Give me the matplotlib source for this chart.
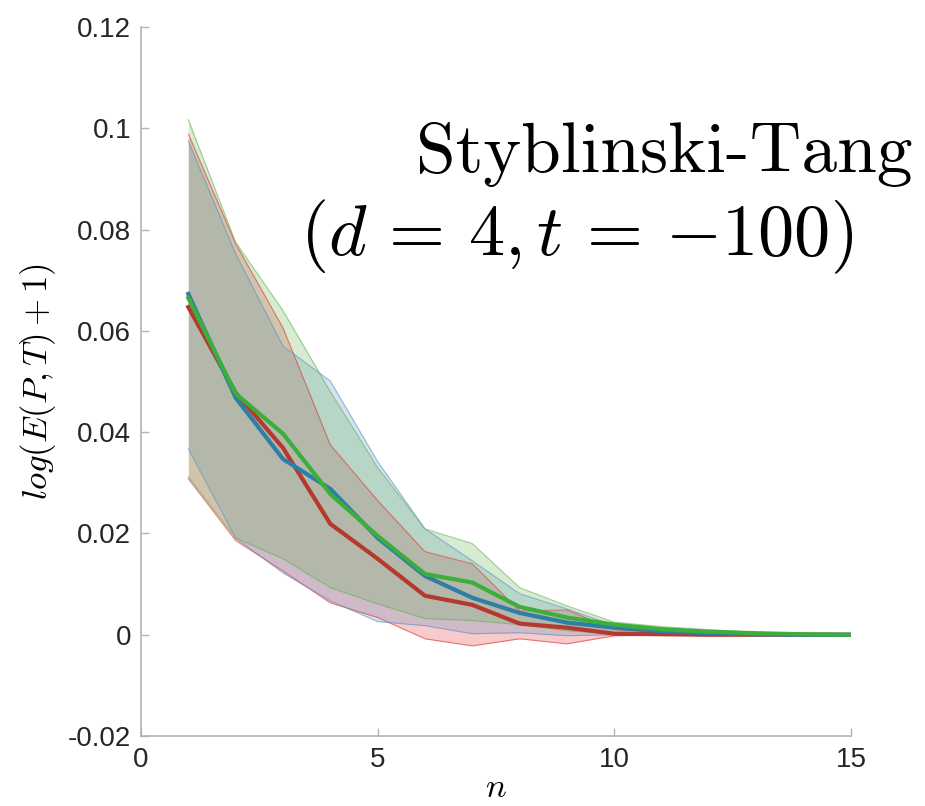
# Convergence of log(E(P,T)+1) against n on Styblinski-Tang, three runs with spread bands

import matplotlib.pyplot as plt
import numpy as np
from matplotlib.ticker import FuncFormatter

n = np.arange(1, 16)

# mean curves
blue_mean = [0.0673, 0.0468, 0.0347, 0.0288, 0.0191, 0.0116, 0.0073, 0.0043,
             0.0024, 0.0014, 0.0007, 0.0003, 0.0001, 0.0, 0.0]
red_mean = [0.0647, 0.0478, 0.0369, 0.0219, 0.0150, 0.0077, 0.0059, 0.0022,
            0.0014, 0.0002, 0.0001, 0.0, 0.0, 0.0, 0.0]
green_mean = [0.0665, 0.0476, 0.0397, 0.0278, 0.0195, 0.0120, 0.0103, 0.0055,
              0.0034, 0.0020, 0.0011, 0.0006, 0.0003, 0.0001, 0.0]

# upper / lower envelopes
blue_hi = [0.0975, 0.0752, 0.0570, 0.0501, 0.0342, 0.0209, 0.0146, 0.0081,
           0.0051, 0.0018, 0.0010, 0.0006, 0.0003, 0.0001, 0.0]
blue_lo = [0.0367, 0.0191, 0.0122, 0.0067, 0.0026, 0.0018, 0.0002, 0.0004,
           -0.0002, 0.0, 0.0, 0.0, 0.0, 0.0, 0.0]
red_hi = [0.0989, 0.0772, 0.0606, 0.0375, 0.0265, 0.0164, 0.0140, 0.0047,
          0.0049, 0.0010, 0.0004, 0.0002, 0.0001, 0.0, 0.0]
red_lo = [0.0308, 0.0186, 0.0126, 0.0063, 0.0034, -0.0008, -0.0022, -0.0008,
          -0.0018, -0.0002, -0.0001, -0.0001, 0.0, 0.0, 0.0]
green_hi = [0.1017, 0.0775, 0.0640, 0.0480, 0.0330, 0.0209, 0.0180, 0.0093,
            0.0057, 0.0025, 0.0016, 0.0010, 0.0005, 0.0002, 0.0]
green_lo = [0.0312, 0.0191, 0.0150, 0.0093, 0.0061, 0.0032, 0.0028, 0.0020,
            0.0008, 0.0002, 0.0001, 0.0, 0.0, 0.0, 0.0]

plt.rcParams["mathtext.fontset"] = "cm"
plt.rcParams["font.family"] = ["Liberation Sans", "DejaVu Sans"]

fig = plt.figure(figsize=(9.25, 8.06), dpi=100)
ax = fig.add_axes([0.1524, 0.0868, 0.7676, 0.8797])

runs = [
    (red_mean, red_lo, red_hi, "#e33333", "#b5392d"),
    (blue_mean, blue_lo, blue_hi, "#5b8fc3", "#2e7ea6"),
    (green_mean, green_lo, green_hi, "#63b353", "#3cae3c"),
]
for mean, lo, hi, fill_c, line_c in runs:
    ax.fill_between(n, lo, hi, color=fill_c, alpha=0.25, lw=0)
    ax.plot(n, hi, color=fill_c, lw=0.8, alpha=0.6)
    ax.plot(n, lo, color=fill_c, lw=0.8, alpha=0.6)
for mean, lo, hi, fill_c, line_c in runs:
    ax.plot(n, mean, color=line_c, lw=3)

ax.set_xlim(0, 15)
ax.set_ylim(-0.02, 0.12)
ax.set_xticks([0, 5, 10, 15])
ax.set_yticks(np.arange(-0.02, 0.121, 0.02))
ax.yaxis.set_major_formatter(FuncFormatter(lambda v, p: f"{v:g}".replace("\u2212", "-")))

for side in ["top", "right"]:
    ax.spines[side].set_visible(False)
for side in ["left", "bottom"]:
    ax.spines[side].set_color("#b3b3b3")
    ax.spines[side].set_linewidth(1.2)
ax.tick_params(direction="in", length=6, width=1, color="#b3b3b3",
               labelsize=20, labelcolor="#262626")
ax.tick_params(axis="x", pad=8)
ax.tick_params(axis="y", pad=7)

ax.set_xlabel("$n$", fontsize=25, va="baseline")
ax.xaxis.set_label_coords(0.5, -0.086)
ax.set_ylabel("$log(E(P,T)+1)$", fontsize=25, va="center")
ax.yaxis.set_label_coords(-0.145, 0.5)

ax.text(912, 806 - 172, "Styblinski-Tang", transform=None, family="cmr10",
        fontsize=51.5, ha="right", va="baseline")
ax.text(853, 806 - 255, r"$(d\,=\,4,t\,=\,{-}100)$", transform=None,
        fontsize=52, ha="right", va="baseline")

fig.savefig("out.png", dpi=100)
